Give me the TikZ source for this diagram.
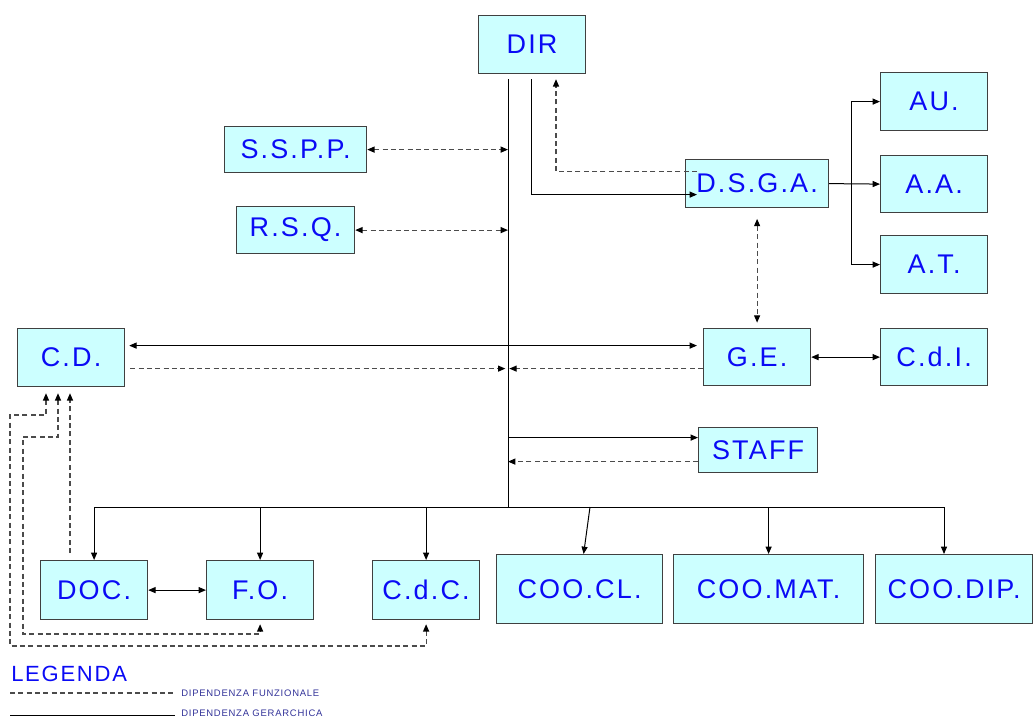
\documentclass[tikz,border=0pt]{standalone}
\usepackage{fontspec}
\setmainfont{Liberation Sans}
\newfontfamily\boxfont{Liberation Sans}[LetterSpace=8]
\usetikzlibrary{arrows.meta}
\definecolor{boxfill}{RGB}{204,255,255}
\definecolor{boxtext}{RGB}{10,10,245}
\definecolor{legtext}{RGB}{51,51,153}
\definecolor{dashcol}{RGB}{75,75,75}
\tikzset{
  box/.style={draw=black!75, line width=0.9pt, fill=boxfill, text=boxtext,
    font=\boxfont\fontsize{20.25}{24}\selectfont, inner sep=0pt, anchor=north west},
  hier/.style={draw=black, line width=0.75pt},
  dep/.style={draw=dashcol, line width=0.85pt, dash pattern=on 3.75pt off 2.5pt},
  >={Triangle[length=5.5pt,width=4.5pt,color=black,fill=black]},
}
\begin{document}
\begin{tikzpicture}[x=0.75pt,y=-0.75pt]
\useasboundingbox (0,0) rectangle (1034,718);
\clip (0,0) rectangle (1034,718);
% boxes
\node[box, minimum width=80.25pt, minimum height=43.5pt] (dir) at (478,15) {DIR};
\node[box, minimum width=106.5pt, minimum height=34.5pt] (sspp) at (224,126) {S.S.P.P.};
\node[box, minimum width=88.5pt, minimum height=35.25pt] (rsq) at (236,206) {R.S.Q.};
\node[box, minimum width=107.25pt, minimum height=36pt] (dsga) at (685,159) {D.S.G.A.};
\node[box, minimum width=80.25pt, minimum height=43.5pt] (au) at (880,72) {AU.};
\node[box, minimum width=80.25pt, minimum height=42.75pt] (aa) at (880,155) {A.A.};
\node[box, minimum width=80.25pt, minimum height=43.5pt] (at) at (880,235) {A.T.};
\node[box, minimum width=80.25pt, minimum height=43.5pt] (cd) at (17,328) {C.D.};
\node[box, minimum width=80.25pt, minimum height=42.75pt] (ge) at (703,328) {G.E.};
\node[box, minimum width=80.25pt, minimum height=42.75pt] (cdi) at (880,328) {C.d.I.};
\node[box, minimum width=89.25pt, minimum height=33.75pt] (staff) at (698,427) {STAFF};
\node[box, minimum width=80.25pt, minimum height=44.25pt] (doc) at (40,560) {DOC.};
\node[box, minimum width=80.25pt, minimum height=44.25pt] (fo) at (206,560) {F.O.};
\node[box, minimum width=80.25pt, minimum height=44.25pt] (cdc) at (372,560) {C.d.C.};
\node[box, minimum width=124.5pt, minimum height=51.75pt] (coocl) at (496,554) {COO.CL.};
\node[box, minimum width=142.5pt, minimum height=51.75pt] (coomat) at (673,554) {COO.MAT.};
\node[box, minimum width=117.75pt, minimum height=51.75pt] (coodip) at (875,554) {COO.DIP.};
% main line
\coordinate (mtop) at ([shift={(30,5)}]dir.south west);
\coordinate (mbot) at (508,507);
\draw[hier] (mtop) -- (mbot);
% DIR <-> DSGA
\coordinate (dira) at ([shift={(53,5)}]dir.south west);
\coordinate (dirb) at ([shift={(78,5)}]dir.south west);
\draw[hier,->] (dira) |- ([shift={(12,11)}]dsga.west);
\draw[dep,->] ([shift={(12,-12)}]dsga.west) -| (dirb);
% staff offices
\draw[dep,<->] (sspp.east) -- (sspp.east -| mtop);
\draw[dep,<->] (rsq.east) -- (rsq.east -| mtop);
% DSGA right
\coordinate (rb) at ([xshift=16.5pt]dsga.east);
\draw[hier,->] (dsga.east) -- (aa.west);
\draw[hier,->] (rb) |- (au.west);
\draw[hier,->] (rb) |- (at.west);
\draw[dep,<->] ([yshift=-8pt]dsga.south) -- ([yshift=4pt]ge.north);
\draw[hier,<->] (ge.east) -- (cdi.west);
% C.D. and G.E.
\draw[hier,<->] ([shift={(4,-12)}]cd.east) -- ([shift={(-6,-11.5)}]ge.west);
\coordinate (cdd) at ([shift={(5,11)}]cd.east);
\coordinate (ged) at ([shift={(0,11.5)}]ge.west);
\draw[dep,->] (cdd) -- ([xshift=-2pt]cdd -| mtop);
\draw[dep,->] (ged) -- ([xshift=1pt]ged -| mtop);
% STAFF
\coordinate (sta) at ([shift={(0,-12.5)}]staff.west);
\coordinate (stb) at ([shift={(0,11.5)}]staff.west);
\draw[hier,->] (sta -| mtop) -- (sta);
\draw[dep,->] (stb) -- (stb -| mtop);
% bottom bus
\coordinate (busr) at (944,507);
\coordinate (clt) at (590,507);
\draw[hier] (doc.north |- mbot) -- (busr);
\draw[hier,->] (doc.north |- mbot) -- (doc.north);
\draw[hier,->] (fo.north |- mbot) -- (fo.north);
\draw[hier,->] (cdc.north |- mbot) -- (cdc.north);
\draw[hier,->] (clt) -- ([xshift=3pt]coocl.north);
\draw[hier,->] (coomat.north |- mbot) -- (coomat.north);
\draw[hier,->] (busr) -- (busr |- coodip.north);
\draw[hier,<->] (doc.east) -- (fo.west);
% dashed to C.D.
\draw[dep,->] ([shift={(30,-7)}]doc.north west) -- ([shift={(53,6)}]cd.south west);
\draw[dep,<->] ([shift={(41,6)}]cd.south west) -- (58,437) -- (23,437) -- (23,634) -| ([yshift=-3pt]fo.south);
\draw[dep,<->] ([shift={(29,6)}]cd.south west) -- (46,415) -- (10,415) -- (10,646) -| ([yshift=-3pt]cdc.south);
% legend
\node[anchor=west, inner sep=0pt, text=boxtext, font=\boxfont\fontsize{16.5}{18}\selectfont] (leg) at (11,674) {LEGENDA};
\coordinate (l1a) at (10,693);
\coordinate (l1b) at (175,693);
\coordinate (l2a) at (10,715);
\coordinate (l2b) at (175,715);
\draw[dep] (l1a) -- (l1b);
\draw[hier] (l2a) -- (l2b);
\node[anchor=west, inner sep=0pt, text=legtext, font=\boxfont\fontsize{7.1}{8}\selectfont] (lf) at (181,693) {DIPENDENZA FUNZIONALE};
\node[anchor=west, inner sep=0pt, text=legtext, font=\boxfont\fontsize{7.1}{8}\selectfont] (lg) at (181,713.5) {DIPENDENZA GERARCHICA};
\end{tikzpicture}
\end{document}
